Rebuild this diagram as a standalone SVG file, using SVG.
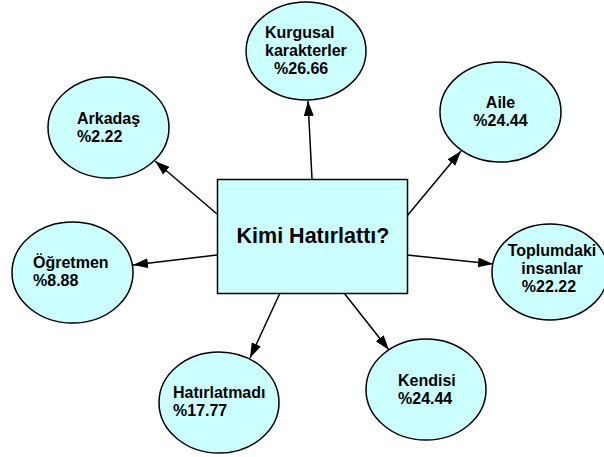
<svg xmlns="http://www.w3.org/2000/svg" width="604" height="457" viewBox="0 0 604 457">
<style>
.n{fill:#ccffff;stroke:#000;stroke-width:1.5}
.t{font-family:"Liberation Sans",Arial,sans-serif;font-weight:bold;font-size:16px;fill:#000}
.c{text-anchor:middle}
.e{stroke:#000;stroke-width:1.5;fill:none;marker-end:url(#ah)}
</style>
<defs>
<marker id="ah" markerUnits="userSpaceOnUse" markerWidth="16" markerHeight="11" refX="15" refY="5" orient="auto">
<path d="M0,0 L15,5 L0,10 z" fill="#000"/>
</marker>
</defs>
<rect width="604" height="457" fill="#fff"/>
<g id="connectors">
<line class="e" x1="217" y1="214" x2="155" y2="161"/>
<line class="e" x1="312" y1="179" x2="308" y2="101"/>
<line class="e" x1="407" y1="216" x2="461" y2="151"/>
<line class="e" x1="217" y1="255" x2="133" y2="265"/>
<line class="e" x1="280" y1="293" x2="250" y2="358"/>
<line class="e" x1="344" y1="293" x2="389" y2="350"/>
<line class="e" x1="407" y1="255" x2="493" y2="264"/>
</g>
<g id="center">
<rect class="n" x="217.5" y="179.5" width="190" height="114" stroke="#333"/>
<text class="t c" x="313" y="243" style="font-size:21.5px">Kimi Hatırlattı?</text>
</g>
<g id="kurgusal">
<ellipse class="n" cx="306" cy="51" rx="60" ry="49"/>
<text class="t" x="265" y="38">Kurgusal</text>
<text class="t" x="265" y="56">karakterler</text>
<text class="t" x="274" y="74">%26.66</text>
</g>
<g id="arkadas">
<ellipse class="n" cx="108.5" cy="127.5" rx="60.5" ry="50.5"/>
<text class="t" x="77" y="124">Arkadaş</text>
<text class="t" x="77" y="142">%2.22</text>
</g>
<g id="aile">
<ellipse class="n" cx="500.5" cy="112" rx="60.5" ry="50"/>
<text class="t c" x="500.5" y="108">Aile</text>
<text class="t c" x="500.5" y="126">%24.44</text>
</g>
<g id="ogretmen">
<ellipse class="n" cx="72.5" cy="272.5" rx="60.5" ry="50.5"/>
<text class="t" x="33" y="268">Öğretmen</text>
<text class="t" x="33" y="286">%8.88</text>
</g>
<g id="toplumdaki">
<ellipse class="n" cx="550" cy="272" rx="58" ry="48"/>
<text class="t c" x="552" y="256">Toplumdaki</text>
<text class="t c" x="552" y="274">insanlar</text>
<text class="t c" x="549" y="292">%22.22</text>
</g>
<g id="hatirlatmadi">
<ellipse class="n" cx="219" cy="402.5" rx="60" ry="50.5"/>
<text class="t" x="173" y="398">Hatırlatmadı</text>
<text class="t" x="173" y="416">%17.77</text>
</g>
<g id="kendisi">
<ellipse class="n" cx="426" cy="389.5" rx="60" ry="50.5"/>
<text class="t" x="398" y="386">Kendisi</text>
<text class="t" x="398" y="404">%24.44</text>
</g>
</svg>
